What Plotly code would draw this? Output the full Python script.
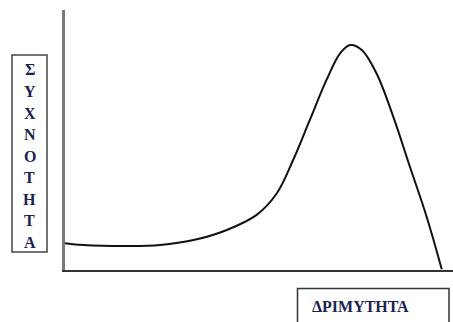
import plotly.graph_objects as go

# Data (x: 0-100 along the horizontal axis, y: 0-100 up the vertical axis)
x_vals = [0, 4.7, 16.8, 24.5, 33.1, 41.7, 49.4, 54.6, 58.8, 63.1, 67.4, 70.9, 73.5, 76.5, 80.3, 84.6, 88.9, 93.2, 97.1]
y_vals = [10.3, 9.6, 9.2, 9.6, 11.5, 15.4, 21.2, 29.5, 42.3, 57.7, 73.1, 83.3, 86.5, 84.6, 75.6, 59.0, 39.7, 20.5, 0.3]
y_label = "ΣΥΧΝΟΤΗΤΑ"
x_label = "ΔΡΙΜΥΤΗΤΑ"

W, H = 453, 322

def px(x):
    return x / W

def py(y):
    return (H - y) / H

fig = go.Figure()
fig.add_trace(go.Scatter(x=x_vals, y=y_vals, mode="lines",
                         line=dict(color="#111111", width=2, shape="spline", smoothing=1.0),
                         hoverinfo="skip", showlegend=False))

text_font = dict(family="Liberation Serif", size=16, color="#1c2150")

annotations = []
top, step = 70, 21.5
for i, ch in enumerate(y_label):
    annotations.append(dict(x=px(29.5), y=py(top + i * step), xref="paper", yref="paper",
                            text="<b>" + ch + "</b>", showarrow=False, font=text_font,
                            xanchor="center", yanchor="middle"))
annotations.append(dict(x=px(310), y=py(306), xref="paper", yref="paper",
                        text="<b>" + x_label + "</b>", showarrow=False, font=text_font,
                        xanchor="left", yanchor="middle"))

shapes = [
    dict(type="rect", xref="paper", yref="paper", x0=px(12), x1=px(47), y0=py(55), y1=py(252),
         line=dict(color="#444444", width=1.5)),
    dict(type="rect", xref="paper", yref="paper", x0=px(297.5), x1=px(449), y0=py(288.5), y1=py(330),
         line=dict(color="#333333", width=1.5)),
]

fig.update_layout(
    width=W, height=H,
    margin=dict(l=0, r=0, t=0, b=0),
    paper_bgcolor="white", plot_bgcolor="white",
    xaxis=dict(domain=[65 / W, 1], range=[0, 100], showgrid=False, zeroline=False,
               showticklabels=False, ticks="", showline=True, linecolor="#333333", linewidth=2),
    yaxis=dict(domain=[py(270), py(10)], range=[0, 100], showgrid=False, zeroline=False,
               showticklabels=False, ticks="", showline=True, linecolor="#7a7a7a", linewidth=2.5),
    annotations=annotations,
    shapes=shapes,
)

fig.write_html("out.html", config={"displayModeBar": False},
               post_script="document.body.style.margin='0px';document.body.style.overflow='hidden';")
